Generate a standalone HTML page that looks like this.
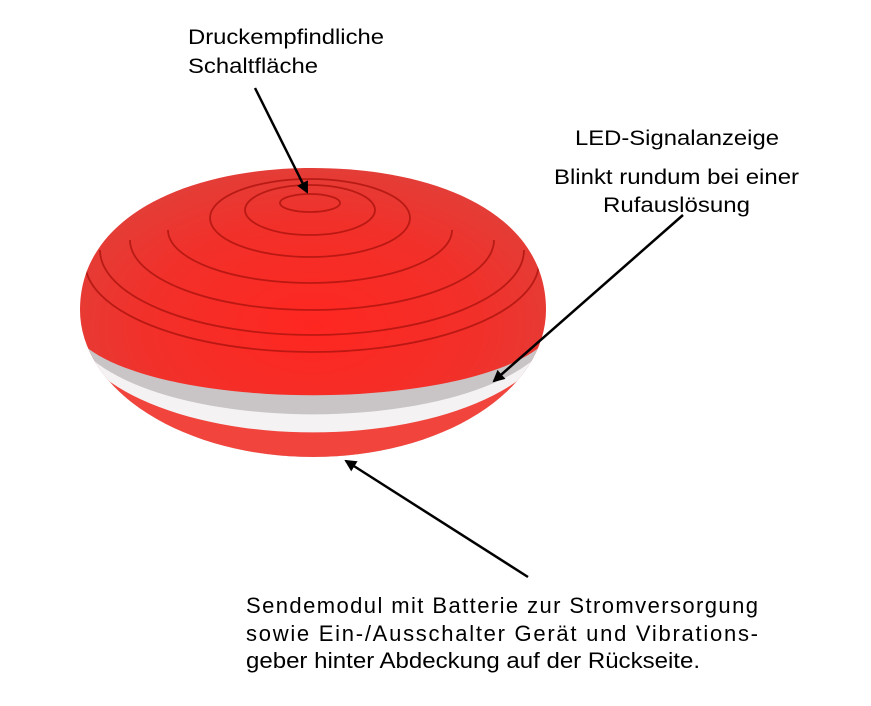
<!DOCTYPE html>
<html><head><meta charset="utf-8"><style>
html,body{margin:0;padding:0;background:#fff;}
svg{display:block;font-family:"Liberation Sans",Arial,sans-serif;}
</style></head><body>
<svg width="871" height="706" viewBox="0 0 871 706">
<defs>
<radialGradient id="rg" cx="0.5" cy="0.55" r="0.6">
<stop offset="0" stop-color="#ff2620"/><stop offset="0.6" stop-color="#f2302a"/><stop offset="1" stop-color="#e0403a"/>
</radialGradient>
<clipPath id="cp"><path d="M80,310 C80,215 190,168 312,168 C440,168 546,215 546,310 A233,147 0 0 1 80,310 Z"/></clipPath>
<marker id="ah" markerWidth="12" markerHeight="12" refX="10" refY="6" orient="auto" markerUnits="userSpaceOnUse"><path d="M0,0 L12,6 L0,12 Z" fill="#000"/></marker>
</defs>
<path d="M80,310 C80,215 190,168 312,168 C440,168 546,215 546,310 A233,147 0 0 1 80,310 Z" fill="url(#rg)"/>
<g clip-path="url(#cp)">
<g fill="none" stroke="#a8120d" stroke-width="1.8" opacity="0.75">
<ellipse cx="310" cy="203" rx="30" ry="9"/>
<ellipse cx="310" cy="210" rx="65" ry="25"/>
<ellipse cx="310" cy="218" rx="100" ry="39"/>
<path d="M168,230 A142,53 0 0 0 452,230"/>
<path d="M130,240 A182,70 0 0 0 494,240"/>
<path d="M100,250 A212,85 0 0 0 524,250"/>
<path d="M85,262 A227,90 0 0 0 539,262"/>
</g>
<path d="M70,320 A242,75 0 0 0 556,320 L556,700 L70,700 Z" fill="#c9c5c6"/>
<path d="M70,320 A242,94 0 0 0 556,320 L556,700 L70,700 Z" fill="#f4f2f2"/>
<path d="M70,320 A242,112 0 0 0 556,320 L556,700 L70,700 Z" fill="#f0443c"/>
</g>
<g stroke="#000" stroke-width="2.5" fill="none">
<line x1="255" y1="88" x2="307" y2="192" marker-end="url(#ah)"/>
<line x1="683" y1="215" x2="494" y2="381" marker-end="url(#ah)"/>
<line x1="528" y1="577" x2="346" y2="461" marker-end="url(#ah)"/>
</g>
<g font-size="21" fill="#000">
<text x="188" y="44" textLength="196" lengthAdjust="spacingAndGlyphs">Druckempfindliche</text>
<text x="188" y="73" textLength="130" lengthAdjust="spacingAndGlyphs">Schaltfläche</text>
<text x="575" y="145" textLength="204" lengthAdjust="spacingAndGlyphs">LED-Signalanzeige</text>
<text x="554" y="184" textLength="245" lengthAdjust="spacingAndGlyphs">Blinkt rundum bei einer</text>
<text x="603" y="212" textLength="147" lengthAdjust="spacingAndGlyphs">Rufauslösung</text>
</g>
<g font-size="22" fill="#000">
<text x="246" y="613" textLength="512" lengthAdjust="spacing">Sendemodul mit Batterie zur Stromversorgung</text>
<text x="246" y="641" textLength="512" lengthAdjust="spacing">sowie Ein-/Ausschalter Gerät und Vibrations-</text>
<text x="246" y="668" textLength="454" lengthAdjust="spacingAndGlyphs">geber hinter Abdeckung auf der Rückseite.</text>
</g>
</svg>
</body></html>
